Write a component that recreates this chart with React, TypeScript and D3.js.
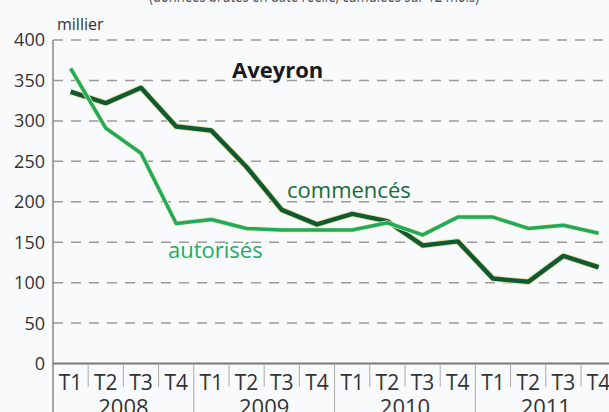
import React from "react";
import * as d3 from "d3";

const quarters = ["T1","T2","T3","T4","T1","T2","T3","T4","T1","T2","T3","T4","T1","T2","T3","T4"];
const years = ["2008", "2009", "2010", "2011"];
const commences = [336, 322, 341, 293, 288, 243, 190, 172, 185, 176, 146, 151, 105, 101, 133, 119];
const autorises = [365, 291, 260, 173, 178, 167, 165, 165, 165, 174, 159, 181, 181, 167, 171, 161];
const yTicks = [0, 50, 100, 150, 200, 250, 300, 350, 400];

const W = 609, H = 412;
const FONT = "'Open Sans', 'DejaVu Sans', sans-serif";

export default function App() {
  const x = d3.scaleBand<number>().domain(d3.range(quarters.length)).range([53, 53 + 16 * 35.2]).padding(0);
  const y = d3.scaleLinear().domain([0, 400]).range([363.5, 40]);
  const cx = (i: number) => (x(i) as number) + x.bandwidth() / 2;
  const line = d3.line<number>().x((_, i) => cx(i)).y((d) => y(d));
  const x0 = 53;
  const axisY = y(0);

  return (
    <svg width={W} height={H} style={{ position: "absolute", left: 0, top: 0, background: "#f9fafc" }} fontFamily={FONT}>
      <rect x={0} y={0} width={W} height={H} fill="#f9fafc" />
      <text x={314} y={2} textAnchor="middle" fontSize={18} fill="#555" textLength={330} lengthAdjust="spacingAndGlyphs">(données brutes en date réelle, cumulées sur 12 mois)</text>
      <text x={57} y={30} fontSize={16} fill="#333">millier</text>
      {yTicks.filter((t) => t > 0).map((t) => (
        <line key={"g" + t} x1={x0} x2={W} y1={y(t)} y2={y(t)} stroke="#9a9a9a" strokeWidth={1.5} strokeDasharray="10 8" />
      ))}
      {yTicks.map((t) => (
        <text key={"yt" + t} x={45} y={y(t)} dy="0.36em" textAnchor="end" fontSize={18} fill="#333">{t}</text>
      ))}
      <line x1={x0} x2={x0} y1={y(400)} y2={H} stroke="#888" strokeWidth={1.5} />
      <line x1={x0} x2={W} y1={axisY} y2={axisY} stroke="#777" strokeWidth={2} />
      {quarters.map((q, i) => (
        i > 0 ? (
          <line key={"s" + i} x1={x(i) as number} x2={x(i) as number} y1={axisY} y2={i % 4 === 0 ? H : 387} stroke="#aaa" strokeWidth={1} />
        ) : null
      ))}
      {quarters.map((q, i) => (
        <text key={"q" + i} x={cx(i)} y={390} textAnchor="middle" fontSize={21} fill="#333">{q}</text>
      ))}
      {years.map((yr, k) => (
        <text key={"y" + yr} x={((x(k * 4) as number) + (x(k * 4 + 3) as number) + x.bandwidth()) / 2} y={415} textAnchor="middle" fontSize={22} fill="#333">{yr}</text>
      ))}
      <path d={line(commences) || ""} fill="none" stroke="#efe4b0" strokeWidth={6.5} strokeLinejoin="round" />
      <path d={line(commences) || ""} fill="none" stroke="#0f5a31" strokeWidth={4.5} strokeLinejoin="round" />
      <path d={line(autorises) || ""} fill="none" stroke="#f1ebb8" strokeWidth={5} strokeLinejoin="round" />
      <path d={line(autorises) || ""} fill="none" stroke="#1faa5c" strokeWidth={3.5} strokeLinejoin="round" />
      <text x={232} y={78} fontSize={22} fontWeight="bold" fill="#1a1a1a">Aveyron</text>
      <text x={287} y={198} fontSize={22} fill="#176a3a">commencés</text>
      <text x={168} y={258} fontSize={22} fill="#22ad5f">autorisés</text>
    </svg>
  );
}
